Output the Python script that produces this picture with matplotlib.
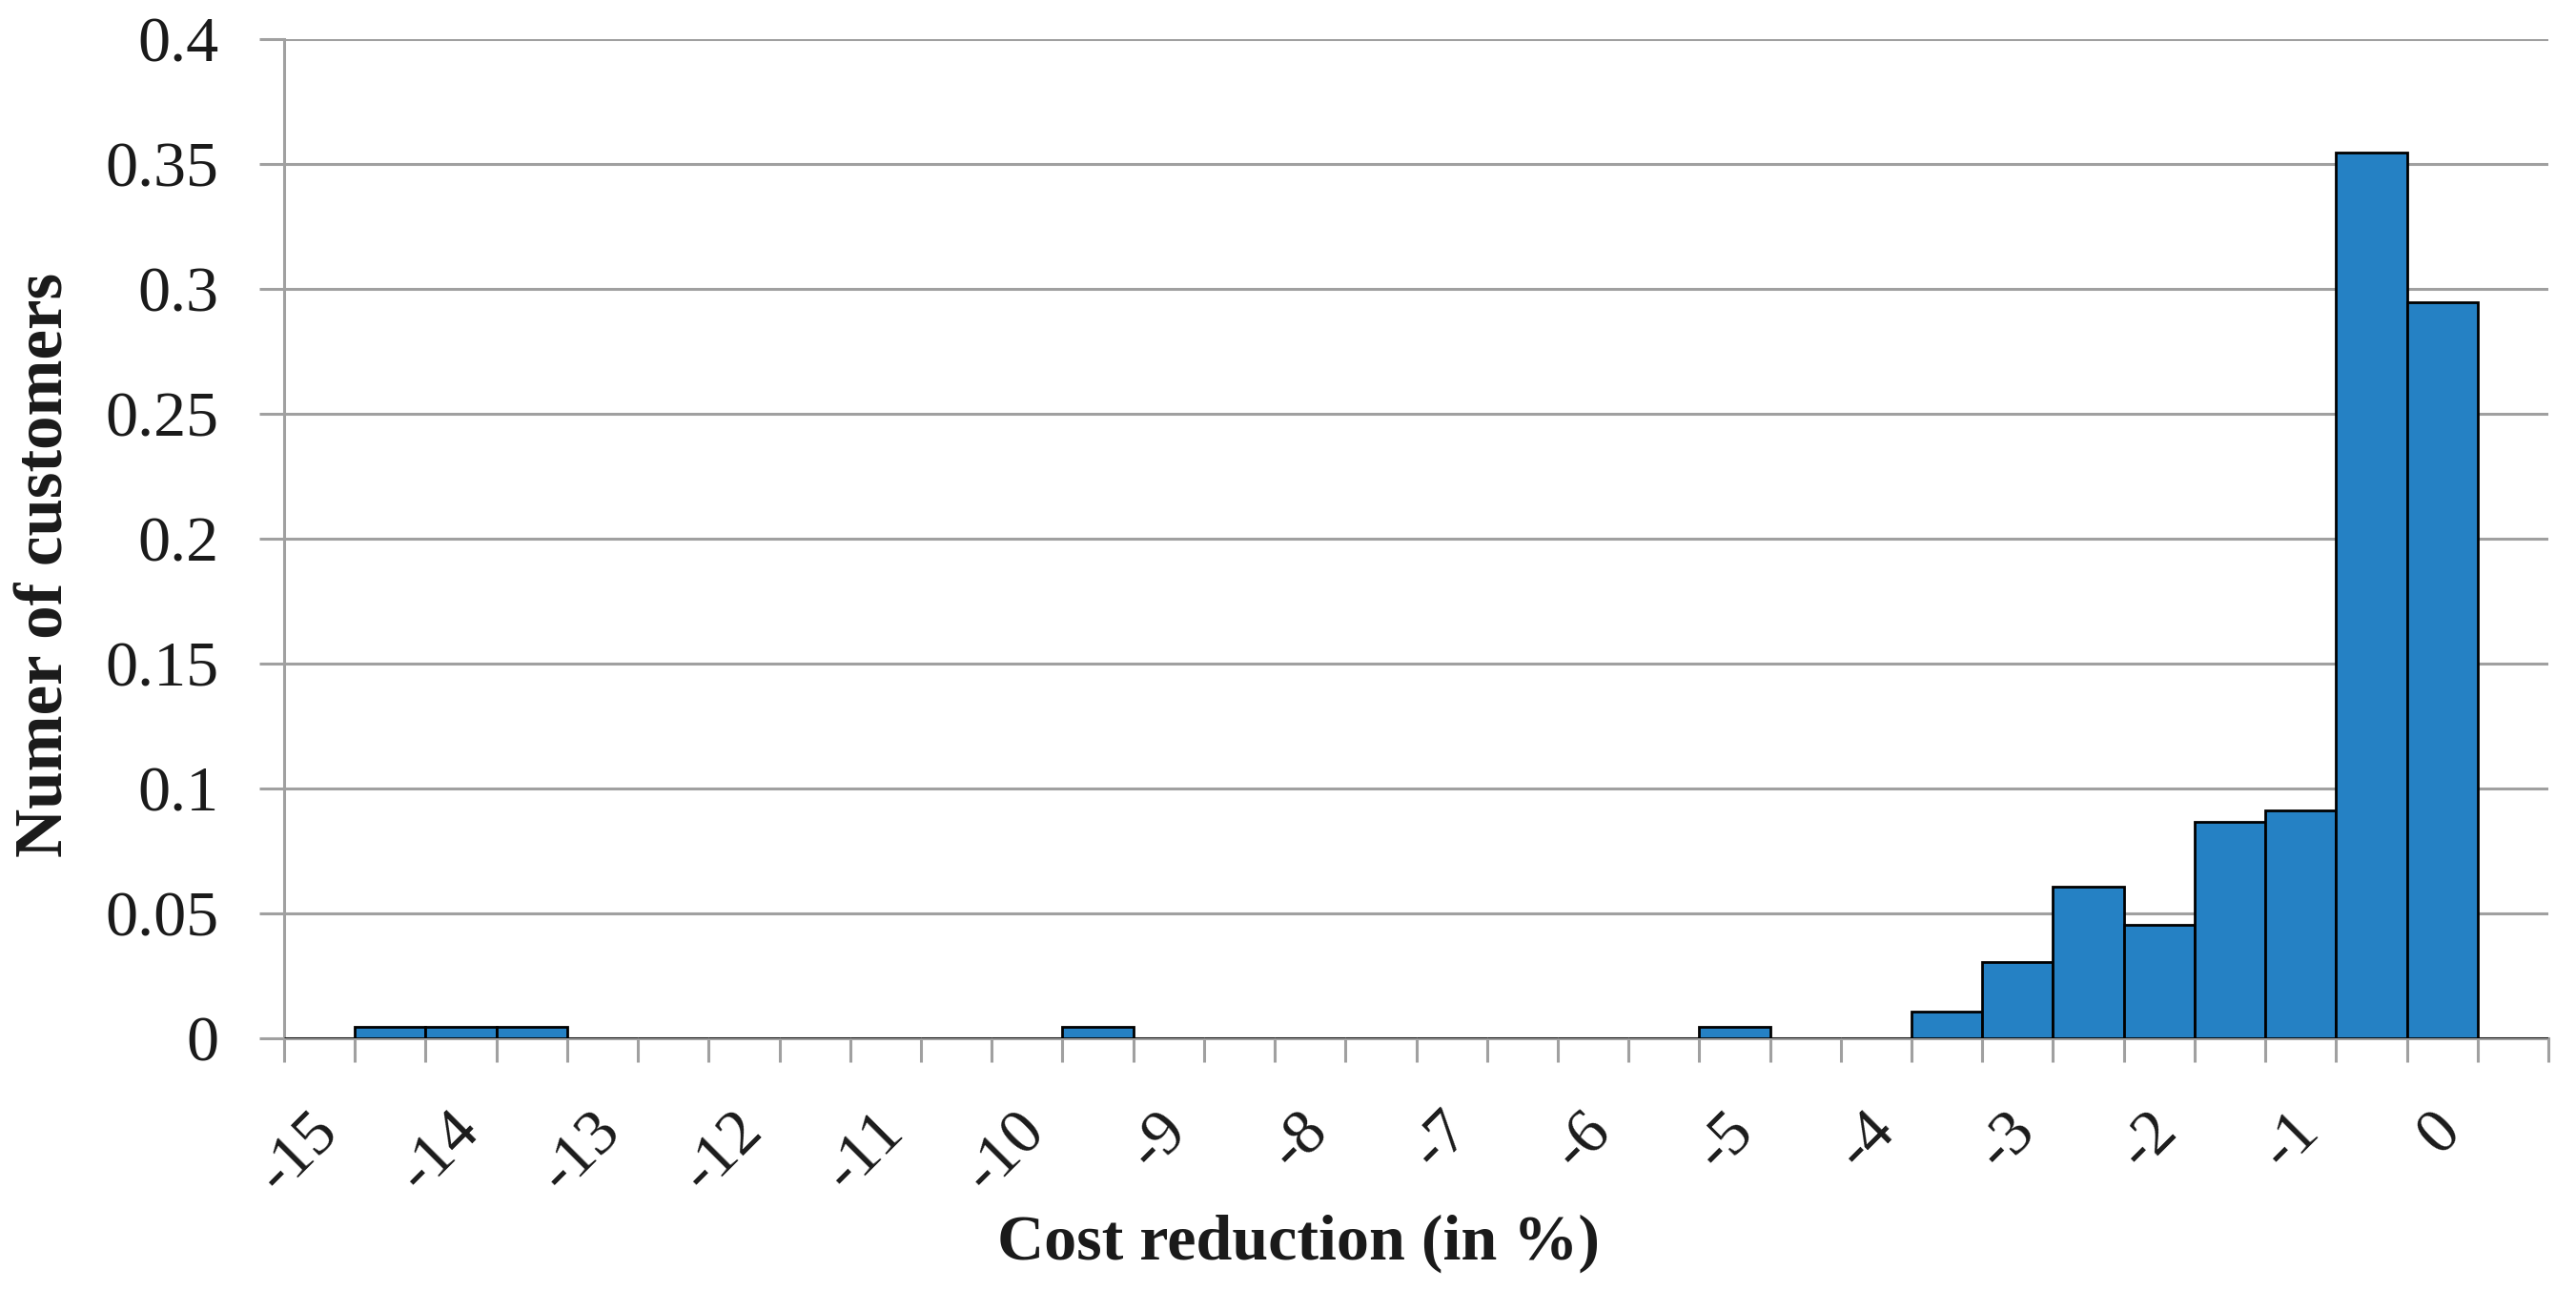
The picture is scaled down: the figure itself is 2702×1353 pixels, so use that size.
import matplotlib
matplotlib.use("Agg")
import matplotlib.pyplot as plt
from matplotlib.transforms import ScaledTranslation
from matplotlib.ticker import FuncFormatter

plt.rcParams['font.family'] = ['Liberation Serif', 'DejaVu Serif']

# Category centres (cost reduction in %), bins of 0.5
categories = [-15.0, -14.5, -14.0, -13.5, -13.0, -12.5, -12.0, -11.5,
              -11.0, -10.5, -10.0, -9.5, -9.0, -8.5, -8.0, -7.5,
              -7.0, -6.5, -6.0, -5.5, -5.0, -4.5, -4.0, -3.5,
              -3.0, -2.5, -2.0, -1.5, -1.0, -0.5, 0.0, 0.5]
shares = [0.0, 0.0045, 0.0045, 0.0045, 0.0, 0.0, 0.0, 0.0,
          0.0, 0.0, 0.0, 0.0045, 0.0, 0.0, 0.0, 0.0,
          0.0, 0.0, 0.0, 0.0, 0.0045, 0.0, 0.0, 0.0105,
          0.0305, 0.0605, 0.0455, 0.0865, 0.0912, 0.3545, 0.2945, 0.0]
tick_values = [-15, -14, -13, -12, -11, -10, -9, -8, -7, -6, -5, -4, -3, -2, -1, 0]
tick_labels = ["-15", "-14", "-13", "-12", "-11", "-10", "-9", "-8", "-7",
               "-6", "-5", "-4", "-3", "-2", "-1", "0"]
y_ticks = [0, 0.05, 0.1, 0.15, 0.2, 0.25, 0.3, 0.35, 0.4]

W, H = 2702, 1353
fig = plt.figure(figsize=(W / 100, H / 100), dpi=100)
x0, x1, y_top, y_zero = 298, 2673, 40.7, 1089
ax = fig.add_axes([x0 / W, 1 - y_zero / H, (x1 - x0) / W, (y_zero - y_top) / H])

grid_col = '#A0A0A0'
txt_col = '#1a1a1a'
ax.bar(categories, shares, width=0.5, color='#2581C4', edgecolor='black',
       linewidth=2.0, zorder=3)

ax.set_xlim(-15.25, 0.75)
ax.set_ylim(0, 0.4)
ax.set_yticks(y_ticks)
ax.yaxis.set_major_formatter(FuncFormatter(lambda v, p: f"{v:g}"))
ax.yaxis.grid(True, color=grid_col, linewidth=2.2, zorder=0)
ax.set_axisbelow(True)

for s in ['top', 'right']:
    ax.spines[s].set_visible(False)
for s in ['left', 'bottom']:
    ax.spines[s].set_color(grid_col)
    ax.spines[s].set_linewidth(2.2)

ax.tick_params(axis='y', direction='out', length=18.5, width=2.2, color=grid_col,
               labelsize=49, pad=31, labelcolor=txt_col)

ax.set_xticks(tick_values)
ax.set_xticklabels(tick_labels)
ax.set_xticks([c - 0.25 for c in categories] + [0.75], minor=True)
ax.tick_params(axis='x', which='major', length=0, labelsize=49, pad=0,
               labelcolor=txt_col)
ax.tick_params(axis='x', which='minor', direction='out', length=18, width=2.2,
               color=grid_col)

off = ScaledTranslation(-12 / 100, -66 / 100, fig.dpi_scale_trans)
for lab in ax.get_xticklabels():
    lab.set_rotation(45)
    lab.set_rotation_mode('anchor')
    lab.set_ha('right')
    lab.set_va('top')
    lab.set_transform(lab.get_transform() + off)

fig.text(1362 / W, 1 - 1304 / H, "Cost reduction (in %)", ha='center', va='center',
         fontsize=49, fontweight='bold', color=txt_col)
fig.text(48 / W, 1 - 592 / H, "Numer of customers", ha='center', va='center',
         rotation=90, fontsize=51, fontweight='bold', color=txt_col)

fig.savefig("out.png", dpi=100)
